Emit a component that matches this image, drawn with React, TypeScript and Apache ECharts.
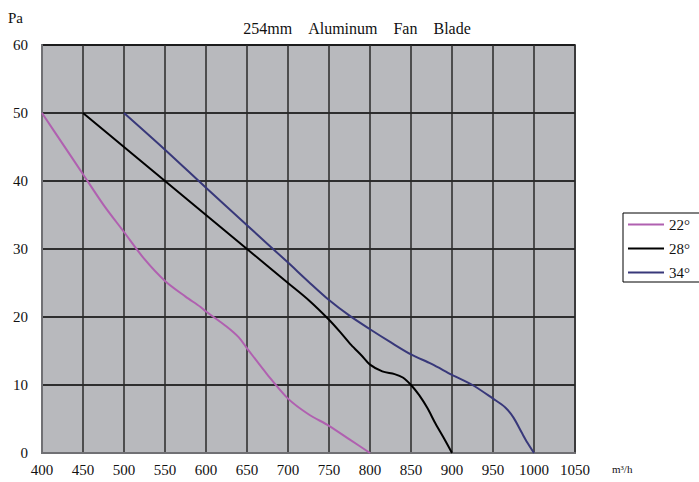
import React, { useEffect, useRef } from "react";
import * as echarts from "echarts";

const titleWords = ["254mm", "Aluminum", "Fan", "Blade"];
const seriesNames = ["22°", "28°", "34°"];
const seriesColors = ["#b060b0", "#000000", "#38387a"];

const flow22 = [400, 425, 450, 475, 500, 525, 550, 575, 593, 600, 625, 640, 650, 675, 700, 725, 750, 775, 800];
const pa22 = [50, 45.5, 41, 36.5, 32.5, 28.5, 25.3, 23, 21.5, 20.8, 18.6, 17, 15.4, 11.5, 8, 5.7, 4, 2, 0];

const flow28 = [450, 500, 550, 600, 650, 700, 725, 750, 765, 777, 790, 800, 815, 830, 840, 850, 860, 870, 880, 890, 900];
const pa28 = [50, 45, 40, 35, 30, 25, 22.5, 19.6, 17.6, 15.9, 14.3, 13, 12, 11.6, 11.1, 10, 8.5, 6.6, 4.3, 2.2, 0];

const flow34 = [500, 550, 600, 650, 700, 725, 750, 775, 800, 825, 850, 875, 900, 925, 950, 965, 975, 985, 992, 1000];
const pa34 = [50, 44.6, 39, 33.5, 28, 25.2, 22.5, 20.2, 18.2, 16.3, 14.5, 13.1, 11.5, 10, 8, 6.7, 5.2, 3, 1.5, 0];

const xMin = 400;
const xMax = 1050;
const xStep = 50;
const yMin = 0;
const yMax = 60;
const yStep = 10;
const yName = "Pa";
const xUnit = "m³/h";

const FONT = "'Liberation Serif', 'DejaVu Serif', serif";

export default function App() {
  const ref = useRef<HTMLDivElement>(null);
  useEffect(() => {
    if (!ref.current) return;
    const chart = echarts.init(ref.current, undefined, { renderer: "svg" });
    const flows = [flow22, flow28, flow34];
    const pas = [pa22, pa28, pa34];
    const gap = "\u00a0\u00a0\u00a0\u00a0";
    chart.setOption({
      animation: false,
      backgroundColor: "#ffffff",
      textStyle: { fontFamily: FONT },
      title: {
        text: titleWords.join(gap),
        left: 352,
        textAlign: "center",
        top: 15,
        textStyle: { fontFamily: FONT, fontSize: 16, fontWeight: "normal", color: "#111" },
      },
      legend: {
        orient: "vertical",
        left: 623,
        top: 213,
        padding: [4, 20, 2, 4],
        itemGap: 9,
        itemWidth: 36,
        itemHeight: 14,
        borderColor: "#000",
        borderWidth: 1,
        itemStyle: { opacity: 0 },
        textStyle: { fontFamily: FONT, fontSize: 15, color: "#111" },
        data: seriesNames,
      },
      grid: {
        left: 42,
        right: 124,
        top: 45,
        bottom: 29,
        show: true,
        backgroundColor: "#b8b9bd",
        borderColor: "#707074",
        borderWidth: 2,
        containLabel: false,
      },
      xAxis: {
        type: "value",
        min: xMin,
        max: xMax,
        interval: xStep,
        axisLine: { show: true, lineStyle: { color: "#707074", width: 2 } },
        axisTick: { show: false },
        axisLabel: { color: "#111", fontSize: 15, fontFamily: FONT, margin: 9, formatter: (v: number) => String(v) },
        splitLine: { show: true, lineStyle: { color: "#2a2a2a", width: 1.5 } },
      },
      yAxis: {
        type: "value",
        min: yMin,
        max: yMax,
        interval: yStep,
        axisLine: { show: true, lineStyle: { color: "#707074", width: 2 } },
        axisTick: { show: false },
        axisLabel: { color: "#111", fontSize: 15, fontFamily: FONT, margin: 14 },
        splitLine: { show: true, lineStyle: { color: "#000", width: 1.5 } },
      },
      graphic: [
        {
          type: "text",
          left: 8,
          top: 10,
          style: { text: yName, fontSize: 15, fontFamily: FONT, fill: "#111" },
        },
        {
          type: "text",
          left: 612,
          top: 463,
          style: { text: xUnit, fontSize: 11, fontFamily: FONT, fill: "#111" },
        },
      ],
      series: seriesNames.map((name, i) => ({
        name,
        type: "line",
        symbol: "none",
        smooth: 0.3,
        lineStyle: { color: seriesColors[i], width: 2 },
        itemStyle: { color: seriesColors[i] },
        data: flows[i].map((f, j) => [f, pas[i][j]]),
      })),
    });
    return () => chart.dispose();
  }, []);
  return <div ref={ref} style={{ width: 699, height: 482, position: "absolute", left: 0, top: 0 }} />;
}
